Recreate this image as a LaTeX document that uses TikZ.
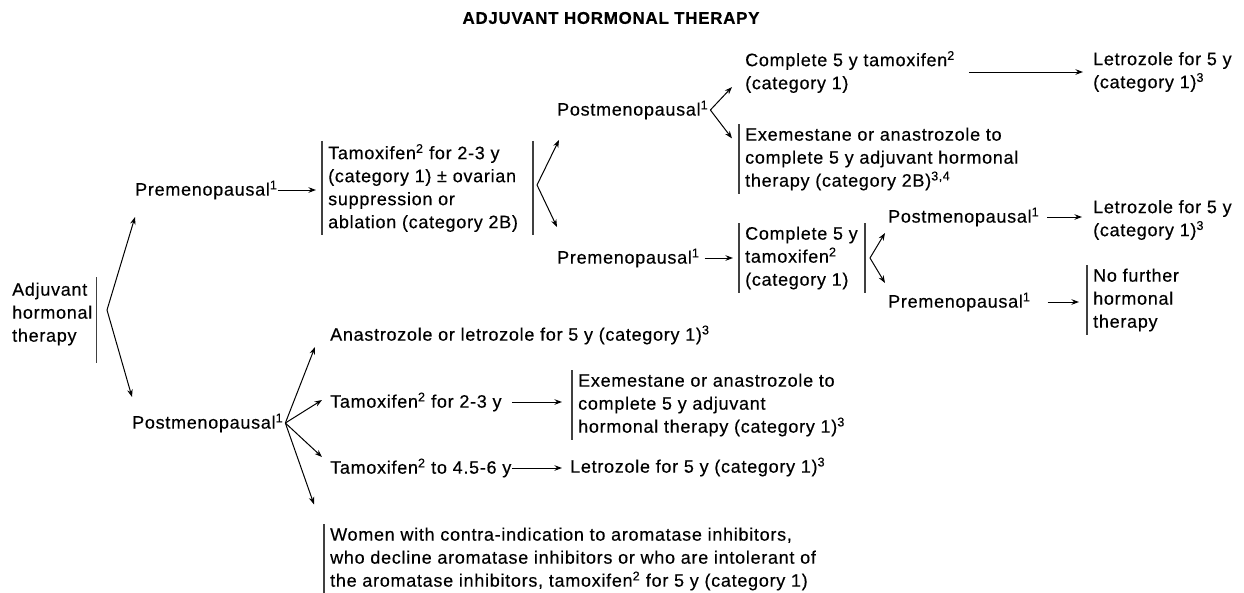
\documentclass[tikz,border=0pt]{standalone}
\usepackage{fontspec}
\setmainfont{Liberation Sans}[LetterSpace=4,FakeBold=0.4]
\usetikzlibrary{calc,arrows.meta}

\begin{document}
\begin{tikzpicture}[x=1pt,y=-1pt,
    every node/.style={font=\fontsize{18}{23}\selectfont},
    lbl/.style={anchor=west,align=left,inner sep=0pt},
    brk/.style={anchor=west,align=left,inner xsep=6pt,inner ysep=3pt},
    bar/.style={line width=1.1pt,black!75},
    arr/.style={line width=1pt,-{Stealth[length=7.5pt,width=5.5pt]}}]
    \useasboundingbox (0,0) rectangle (1244,592);

    \node[font=\bfseries\fontsize{17}{20}\selectfont] (title) at (611,18) {ADJUVANT HORMONAL THERAPY};

    % start
    \node[lbl] (adj) at (12,314) {Adjuvant\\hormonal\\therapy};
    \draw[bar] ([xshift=4pt,yshift=5pt]adj.north east) -- ([xshift=4pt,yshift=-17pt]adj.south east);
    \coordinate (f0) at (107,310);

    \node[lbl] (pre1) at (135,190) {Premenopausal\textsuperscript{1}};
    \node[lbl] (post1) at (132,423) {Postmenopausal\textsuperscript{1}};
    \draw[arr] (f0) -- ($(pre1.west)+(0,27)$);
    \draw[arr] (f0) -- ($(post1.west)+(0,-26)$);

    % premenopausal branch
    \node[brk] (tam) at (322,188) {Tamoxifen\textsuperscript{2} for 2-3 y\\(category 1) ± ovarian\\suppression or\\ablation (category 2B)};
    \draw[bar] (tam.north west) -- (tam.south west);
    \draw[arr] (pre1.east) -- ([xshift=-6pt]tam.west |- pre1.east);
    \coordinate (f1) at (537,185);
    \draw[bar] ($(tam.north west -| f1)+(-4,0)$) -- ($(tam.south west -| f1)+(-4,0)$);

    \node[lbl] (post2) at (557,110) {Postmenopausal\textsuperscript{1}};
    \node[lbl] (pre2) at (557,258) {Premenopausal\textsuperscript{1}};
    \draw[arr] (f1) -- ($(post2.west)+(2,30)$);
    \draw[arr] (f1) -- ($(pre2.west)+(0,-31)$);

    \node[lbl] (comp1) at (745,72) {Complete 5 y tamoxifen\textsuperscript{2}\\(category 1)};
    \node[brk] (exe1) at (739,159) {Exemestane or anastrozole to\\complete 5 y adjuvant hormonal\\therapy (category 2B)\textsuperscript{3,4}};
    \draw[bar] (exe1.north west) -- (exe1.south west);
    \draw[arr] ([xshift=2pt]post2.east) -- ($(comp1.west)+(-13,15)$);
    \draw[arr] ([xshift=2pt]post2.east) -- ($(exe1.north west)+(-7,14)$);

    \node[lbl] (let1) at (1093,72) {Letrozole for 5 y\\(category 1)\textsuperscript{3}};
    \draw[arr] ($(comp1.east)+(14,0)$) -- ($(let1.west)+(-10,0)$);

    \node[brk] (comp2) at (739,258) {Complete 5 y\\tamoxifen\textsuperscript{2}\\(category 1)};
    \draw[bar] (comp2.north west) -- (comp2.south west);
    \draw[arr] ([xshift=5pt]pre2.east) -- ([xshift=-6pt]comp2.west |- pre2.east);
    \coordinate (f2) at (870,258);
    \draw[bar] ($(comp2.north west -| f2)+(-5,0)$) -- ($(comp2.south west -| f2)+(-5,0)$);

    \node[lbl] (post3) at (888,217) {Postmenopausal\textsuperscript{1}};
    \node[lbl] (pre3) at (888,302) {Premenopausal\textsuperscript{1}};
    \draw[arr] (f2) -- ($(post3.west)+(-3,16)$);
    \draw[arr] (f2) -- ($(pre3.west)+(-3,-19)$);

    \node[lbl] (let2) at (1093,220) {Letrozole for 5 y\\(category 1)\textsuperscript{3}};
    \draw[arr] ([xshift=8pt]post3.east) -- ([xshift=-11pt]let2.west |- post3.east);
    \node[brk] (nofur) at (1087,300) {No further\\hormonal\\therapy};
    \draw[bar] (nofur.north west) -- (nofur.south west);
    \draw[arr] ([xshift=17pt]pre3.east) -- ([xshift=-8pt]nofur.west |- pre3.east);

    % postmenopausal branch
    \node[lbl] (ana) at (330,335) {Anastrozole or letrozole for 5 y (category 1)\textsuperscript{3}};
    \node[lbl] (tam2) at (330,402) {Tamoxifen\textsuperscript{2} for 2-3 y};
    \node[lbl] (tam3) at (330,468) {Tamoxifen\textsuperscript{2} to 4.5-6 y};
    \node[brk] (women) at (324,559) {Women with contra-indication to aromatase inhibitors,\\who decline aromatase inhibitors or who are intolerant of\\the aromatase inhibitors, tamoxifen\textsuperscript{2} for 5 y (category 1)};
    \draw[bar] (women.north west) -- (women.south west);
    \draw[arr] ([xshift=2pt]post1.east) -- ($(ana.west)+(-15,12)$);
    \draw[arr] ([xshift=2pt]post1.east) -- ($(tam2.west)+(-8,-2)$);
    \draw[arr] ([xshift=2pt]post1.east) -- ($(tam3.west)+(-8,-11)$);
    \draw[arr] ([xshift=2pt]post1.east) -- ($(women.north west)+(-10,-20)$);

    \node[brk] (exe2) at (572,405) {Exemestane or anastrozole to\\complete 5 y adjuvant\\hormonal therapy (category 1)\textsuperscript{3}};
    \draw[bar] (exe2.north west) -- (exe2.south west);
    \draw[arr] ([xshift=10pt]tam2.east) -- ([xshift=-10pt]exe2.west |- tam2.east);
    \node[lbl] (let3) at (570,467) {Letrozole for 5 y (category 1)\textsuperscript{3}};
    \draw[arr] (tam3.east) -- ([xshift=-8pt]let3.west |- tam3.east);
\end{tikzpicture}
\end{document}
